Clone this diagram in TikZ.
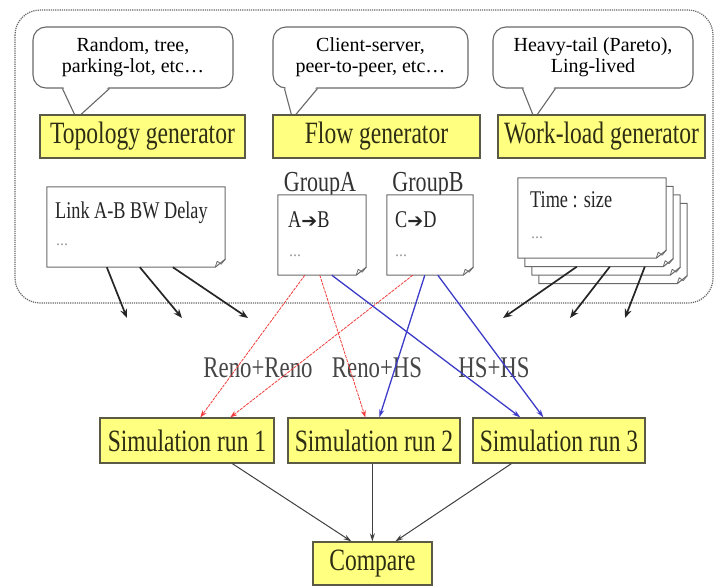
\documentclass[tikz,border=0pt]{standalone}
\usepackage{fontspec}
\setmainfont{Liberation Serif}
\newfontfamily\narrowserif{Liberation Serif}[FakeStretch=0.76]
\newfontfamily\arrowfont{DejaVu Sans}
\usetikzlibrary{calc,arrows.meta}

\definecolor{boxfill}{RGB}{255,255,128}
\definecolor{boxedge}{RGB}{90,90,70}
\definecolor{boxtext}{RGB}{45,45,20}
\definecolor{edgegray}{RGB}{105,105,105}
\definecolor{labelgray}{RGB}{70,70,70}
\definecolor{runred}{RGB}{240,60,60}
\definecolor{runblue}{RGB}{60,60,200}

\tikzset{
  callout/.style={draw=edgegray, line width=1.1pt, rounded corners=13pt, fill=white,
    font=\fontsize{20}{21}\selectfont, align=center, inner sep=0pt, minimum height=61pt},
  genbox/.style={draw=boxedge, line width=1.3pt, fill=boxfill, inner sep=0pt,
    minimum height=43pt, font=\narrowserif\fontsize{31}{33}\selectfont, text=boxtext},
  sheet/.style={inner sep=0pt, minimum height=80pt},
  sheetline/.style={draw=edgegray, line width=1pt, fill=white, line join=round},
  sheettext/.style={anchor=base west, inner sep=0pt,
    font=\narrowserif\fontsize{24}{26}\selectfont, text=black!85},
  dots/.style={anchor=base west, inner sep=0pt, font=\fontsize{16}{16}\selectfont, text=black!40},
  grouplabel/.style={anchor=base, inner sep=0pt,
    font=\narrowserif\fontsize{29}{30}\selectfont, text=black!80},
  pairlabel/.style={inner sep=0pt, font=\narrowserif\fontsize{30}{32}\selectfont, text=labelgray},
  feed/.style={draw=black!85, line width=1.7pt, -{Stealth[length=9pt,width=7pt]}},
  renoline/.style={draw=runred, line width=0.8pt, dash pattern=on 3pt off 1pt,
    -{Stealth[length=7pt,width=5pt]}},
  hsline/.style={draw=runblue, line width=1.3pt, -{Stealth[length=8pt,width=5pt]}},
  result/.style={draw=black!75, line width=1pt, -{Stealth[length=8pt,width=5pt]}},
}

% outline of a sheet of paper with a turned-up bottom-right corner
\newcommand\pageoutline[1]{%
  \draw[sheetline] (#1.north west) -- (#1.north east) -- ([yshift=8pt]#1.south east)
    -- ([xshift=-10pt]#1.south east) -- (#1.south west) -- cycle;
  \draw[edgegray, line width=0.8pt, line join=round] ([yshift=8pt]#1.south east)
    -- ([xshift=-4pt,yshift=3pt]#1.south east) -- ([xshift=-8pt,yshift=6pt]#1.south east)
    -- ([xshift=-10pt]#1.south east);}

% speech-bubble tail below a callout: base offsets #2, #4 and tip offset #3
\newcommand\calltail[4]{%
  \fill[white] ($(#1.south west)+(#2+1,-1.5)$) -- ($(#1.south west)+(#3)$)
    -- ($(#1.south west)+(#4-1,-1.5)$) -- cycle;
  \draw[edgegray, line width=1.1pt, line join=round] ($(#1.south west)+(#2,0)$)
    -- ($(#1.south west)+(#3)$) -- ($(#1.south west)+(#4,0)$);}

\begin{document}
\begin{tikzpicture}[x=1pt, y=-1pt]
\useasboundingbox (0,0) rectangle (717,587);

% scenario frame
\draw[black!60, line width=1.2pt, densely dotted, rounded corners=25pt] (15,10) rectangle (713,303);

% callouts
\node[callout, minimum width=200pt] (c1) at (133,57.5) {Random, tree,\\parking-lot, etc…};
\node[callout, minimum width=195pt] (c2) at (370.5,57.5) {Client-server,\\peer-to-peer, etc…};
\node[callout, minimum width=200pt] (c3) at (593,57.5) {Heavy-tail (Pareto),\\Ling-lived};
\calltail{c1}{30}{44,30}{77}
\calltail{c2}{12}{20,30}{45}
\calltail{c3}{30}{42,30}{63}

% generators
\node[genbox, minimum width=205pt] (topo) at (142.5,136.5) {Topology generator};
\node[genbox, minimum width=207pt] (flow) at (376.5,136.5) {Flow generator};
\node[genbox, minimum width=207pt] (work) at (601.5,136.5) {Work-load generator};

% topology file
\node[sheet, minimum width=178pt] (link) at (136,227) {};
\pageoutline{link}
\node[sheettext] (linktxt) at (55,218) {Link A-B BW Delay};
\node[dots] (linkdots) at (56,245) {...};

% flow groups
\node[grouplabel] (galabel) at (320,191) {GroupA};
\node[grouplabel] (gblabel) at (428,191) {GroupB};
\node[sheet, minimum width=88pt] (ga) at (322,235) {};
\pageoutline{ga}
\node[sheet, minimum width=86pt] (gb) at (430,235) {};
\pageoutline{gb}
\node[sheettext] (gatxt) at (288,227) {A{\arrowfont\fontsize{19}{19}\selectfont ➔}B};
\node[sheettext] (gbtxt) at (395,227) {C{\arrowfont\fontsize{19}{19}\selectfont ➔}D};
\node[dots] (gadots) at (289,256) {...};
\node[dots] (gbdots) at (395,256) {...};

% workload files
\node[sheet, minimum width=148pt] (ts3) at (613,243.5) {};
\pageoutline{ts3}
\node[sheet, minimum width=148pt] (ts2) at (606,235) {};
\pageoutline{ts2}
\node[sheet, minimum width=148pt] (ts1) at (599,226.5) {};
\pageoutline{ts1}
\node[sheet, minimum width=148pt] (ts) at (592,218) {};
\pageoutline{ts}
\node[sheettext] (tstxt) at (530,207) {Time : size};
\node[dots] (tsdots) at (531,238) {...};

% inputs handed to the runs
\coordinate (k1) at (127,318);
\coordinate (k2) at (182,318);
\coordinate (k3) at (248,318);
\coordinate (w1) at (503,318);
\coordinate (w2) at (570,318);
\coordinate (w3) at (625,318);
\draw[feed] ($(link.south west)+(60,0)$) -- (k1);
\draw[feed] ($(link.south west)+(93,0)$) -- (k2);
\draw[feed] ($(link.south west)+(126,0)$) -- (k3);
\draw[feed] ($(ts1.south west)+(52,0)$) -- (w1);
\draw[feed] ($(ts1.south west)+(85,0)$) -- (w2);
\draw[feed] ($(ts1.south west)+(120,0)$) -- (w3);

% TCP pairings
\node[pairlabel] (rr) at (258,368) {Reno+Reno};
\node[pairlabel] (rh) at (377,368) {Reno+HS};
\node[pairlabel] (hh) at (494,368) {HS+HS};

% simulation runs
\node[genbox, minimum width=174pt, minimum height=45pt] (sim1) at (187,440.5) {Simulation run 1};
\node[genbox, minimum width=172pt, minimum height=45pt] (sim2) at (374,440.5) {Simulation run 2};
\node[genbox, minimum width=172pt, minimum height=45pt] (sim3) at (559,440.5) {Simulation run 3};
\node[genbox, minimum width=119pt] (cmp) at (372.5,563.5) {Compare};

\draw[renoline] ($(ga.south west)+(27,0)$) -- ($(sim1.north west)+(101,0)$);
\draw[renoline] ($(gb.south west)+(26,0)$) -- ($(sim1.north west)+(131,0)$);
\draw[renoline] ($(ga.south west)+(42,0)$) -- ($(sim2.north west)+(78,0)$);
\draw[hsline] ($(gb.south west)+(38,0)$) -- ($(sim2.north west)+(92,0)$);
\draw[hsline] ($(ga.south west)+(54,0)$) -- ($(sim3.north west)+(48,0)$);
\draw[hsline] ($(gb.south west)+(51,0)$) -- ($(sim3.north west)+(71,0)$);

\draw[result] ($(sim1.south west)+(133,0)$) -- ($(cmp.north west)+(39,0)$);
\draw[result] ($(sim2.south west)+(85,0)$) -- ($(cmp.north west)+(60,0)$);
\draw[result] ($(sim3.south west)+(39,0)$) -- ($(cmp.north west)+(83,0)$);
\end{tikzpicture}
\end{document}
